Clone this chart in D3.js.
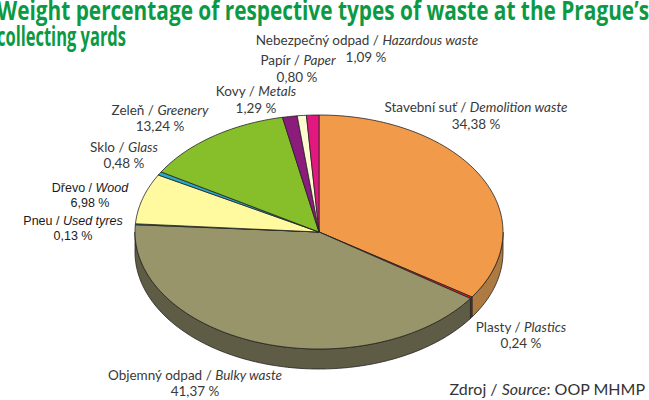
<!DOCTYPE html>
<html>
<head>
<meta charset="utf-8">
<script src="https://cdn.jsdelivr.net/npm/d3@7"></script>
<style>
  body { margin: 0; background: #fff; }
</style>
</head>
<body>
<div id="chart"></div>
<script>
// categories, clockwise from 12 o'clock
let namesCz = ["Stavební suť", "Plasty", "Objemný odpad", "Pneu", "Dřevo", "Sklo", "Zeleň", "Kovy", "Papír", "Nebezpečný odpad"];
let namesEn = ["Demolition waste", "Plastics", "Bulky waste", "Used tyres", "Wood", "Glass", "Greenery", "Metals", "Paper", "Hazardous waste"];
let shares = [34.38, 0.24, 41.37, 0.13, 6.98, 0.48, 13.24, 1.29, 0.80, 1.09];

let topColors  = ["#f09a4a", "#e2231a", "#99956b", "#2aa9c6", "#fffaa0", "#2aa9c6", "#86bf2a", "#8c1c7c", "#fffbd0", "#e2187f"];
let sideColors = ["#ad7a42", "#a01812", "#5e5c45", "#1f7a8e", "#b8b270", "#1f7a8e", "#5f8a1e", "#62135a", "#b8b590", "#a01159"];

// label anchor points (layout)
let labelPos = [[476, 112], [521, 332], [195, 380], [73, 225], [90, 192], [124, 152], [160, 115], [256, 96], [298, 65], [367, 45]];
let valuePos = [[476, 129], [521, 348], [195, 396], [73, 240], [90, 207], [124, 168], [160, 131], [256, 113], [297, 82], [366, 62]];
// two labels in the original are set in a different face
let arialLabels = [3, 4];

let width = 649, height = 400;
let cx = 319, cy = 232, rx = 184, ry = 117, depth = 20;

let svg = d3.select("#chart").append("svg")
    .attr("width", width)
    .attr("height", height);

let data = shares.map((v, i) => ({ i: i, v: v }));
let pie = d3.pie().sort(null).value(d => d.v);
let arcs = pie(data);

let px = a => cx + rx * Math.sin(a);
let py = a => cy - ry * Math.cos(a);

function rim(a0, a1, dy) {
    let n = Math.max(2, Math.ceil((a1 - a0) / 0.02));
    let pts = [];
    for (let k = 0; k <= n; k++) {
        let a = a0 + (a1 - a0) * k / n;
        pts.push([px(a), py(a) + dy]);
    }
    return pts;
}

let line = d3.line();

// side walls: only the front half is visible
let sides = svg.append("g");
arcs.forEach(d => {
    let a0 = Math.max(d.startAngle, Math.PI / 2);
    let a1 = Math.min(d.endAngle, Math.PI * 1.5);
    if (a1 <= a0) return;
    let top = rim(a0, a1, 0);
    let bot = rim(a0, a1, depth).reverse();
    sides.append("path")
        .attr("d", line(top.concat(bot)) + "Z")
        .attr("fill", sideColors[d.data.i])
        .attr("stroke", "#222")
        .attr("stroke-width", 0.8)
        .attr("stroke-linejoin", "round");
});

// top faces
svg.append("g").selectAll("path")
    .data(arcs)
    .enter()
    .append("path")
    .attr("d", d => line([[cx, cy]].concat(rim(d.startAngle, d.endAngle, 0))) + "Z")
    .attr("fill", d => topColors[d.data.i])
    .attr("stroke", "#222")
    .attr("stroke-width", 0.8)
    .attr("stroke-linejoin", "round");

// title
let title = svg.append("g")
    .attr("font-family", "'Open Sans', sans-serif")
    .attr("font-weight", "bold")
    .attr("font-size", "26px")
    .attr("fill", "#0b9a43");
title.append("text")
    .attr("x", -3).attr("y", 20)
    .attr("textLength", 652)
    .attr("lengthAdjust", "spacingAndGlyphs")
    .text("Weight percentage of respective types of waste at the Prague’s");
title.append("text")
    .attr("x", -3).attr("y", 46)
    .attr("textLength", 129)
    .attr("lengthAdjust", "spacingAndGlyphs")
    .text("collecting yards");

// labels
let labels = svg.append("g")
    .attr("font-family", "Lato, 'Open Sans', sans-serif")
    .attr("font-size", "13.5px")
    .attr("fill", "#3a3a3a")
    .attr("text-anchor", "middle");

data.forEach(d => {
    let g = labels.append("g");
    if (arialLabels.includes(d.i)) {
        g.attr("font-family", "'Liberation Sans', Arial, sans-serif")
            .attr("font-size", "12.5px")
            .attr("fill", "#1a1a1a");
    }
    let t = g.append("text")
        .attr("x", labelPos[d.i][0])
        .attr("y", labelPos[d.i][1]);
    t.append("tspan").text(namesCz[d.i] + " / ");
    t.append("tspan").attr("font-style", "italic").text(namesEn[d.i]);
    g.append("text")
        .attr("x", valuePos[d.i][0])
        .attr("y", valuePos[d.i][1])
        .text(d3.format(".2f")(d.v).replace(".", ",") + " %");
});

// source
let src = svg.append("text")
    .attr("x", 645).attr("y", 395)
    .attr("text-anchor", "end")
    .attr("font-family", "Lato, 'Open Sans', sans-serif")
    .attr("font-size", "16px")
    .attr("fill", "#333");
src.append("tspan").text("Zdroj / ");
src.append("tspan").attr("font-style", "italic").text("Source");
src.append("tspan").text(": OOP MHMP");
</script>
</body>
</html>
